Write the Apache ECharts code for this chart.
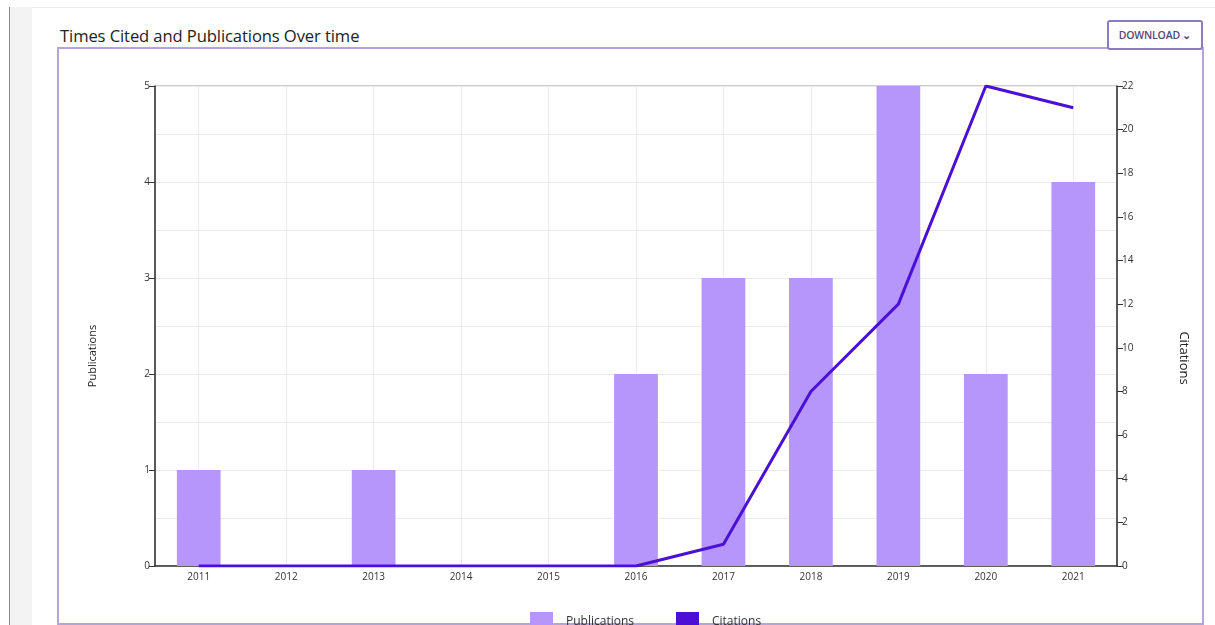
<!DOCTYPE html>
<html>
<head>
<meta charset="utf-8">
<script src="https://cdn.jsdelivr.net/npm/echarts@6/dist/echarts.min.js"></script>
<style>
  html, body { margin: 0; padding: 0; background: #fff; }
  body { width: 1215px; height: 625px; position: relative; overflow: hidden; font-family: "Open Sans", "Noto Sans", sans-serif; }
  .side { position: absolute; left: 9px; top: 7px; width: 23px; height: 618px; background: #f3f3f3; border-left: 1px solid #8a8a8a; }
  .card { position: absolute; left: 32px; top: 7px; width: 1183px; height: 618px; border-top: 1px solid #ececec; background: #fff; }
  .title { position: absolute; left: 60px; top: 24px; font-size: 16.6px; color: #222; letter-spacing: -0.1px; }
  .frame { position: absolute; left: 57px; top: 47px; width: 1143px; height: 574px; border: 2px solid #b4a5d8; }
  .btn { position: absolute; left: 1107px; top: 20px; width: 92px; height: 26px; border: 2px solid #8c7bc4; border-radius: 3px; background: #fff;
         font-size: 10.5px; font-weight: 600; color: #4e4a78; line-height: 26px; text-align: center; letter-spacing: -0.2px; }
  #chart { position: absolute; left: 0; top: 0; width: 1215px; height: 625px; }
</style>
</head>
<body>
<div class="side"></div>
<div class="card"></div>
<div class="title">Times Cited and Publications Over time</div>
<div class="frame"></div>
<div class="btn">DOWNLOAD &#8964;</div>
<div id="chart"></div>
<script>
// Yearly publication counts and citations
const years = ['2011', '2012', '2013', '2014', '2015', '2016', '2017', '2018', '2019', '2020', '2021'];
const publications = [1, 0, 1, 0, 0, 2, 3, 3, 5, 2, 4];
const citations = [0, 0, 0, 0, 0, 0, 1, 8, 12, 22, 21];

const barColor = '#b796fb';
const lineColor = '#4a10d6';
const axisColor = '#333';
const labelFont = { fontFamily: 'Open Sans', fontSize: 10, color: '#333' };

const chart = echarts.init(document.getElementById('chart'), null, { renderer: 'canvas' });
chart.setOption({
  backgroundColor: 'transparent',
  animation: false,
  grid: { left: 155, right: 98, top: 86, bottom: 59, show: true, borderColor: '#9a9a9a', borderWidth: 1, backgroundColor: 'transparent' },
  legend: {
    left: 525, top: 607, itemWidth: 23, itemHeight: 19, itemGap: 42, icon: 'rect',
    textStyle: { fontFamily: 'Open Sans', fontSize: 12, color: '#333', padding: [0, 0, 8, 8] },
    data: ['Publications', 'Citations']
  },
  xAxis: {
    type: 'category',
    data: years,
    axisLine: { lineStyle: { color: axisColor, width: 1.5 } },
    axisTick: { alignWithLabel: true, length: 5, lineStyle: { color: axisColor } },
    axisLabel: Object.assign({ margin: 6 }, labelFont),
    splitLine: { show: true, alignWithLabel: true, lineStyle: { color: '#ebebeb', width: 1 } }
  },
  yAxis: [
    {
      type: 'value', min: 0, max: 5, interval: 1, position: 'left',
      name: 'Publications', nameLocation: 'middle', nameGap: 57,
      nameTextStyle: { fontFamily: 'Open Sans', fontSize: 11, color: '#222', padding: [0, 60, 0, 0] },
      axisLine: { show: true, lineStyle: { color: axisColor, width: 1.5 } },
      axisTick: { show: true, length: 6, lineStyle: { color: axisColor } },
      axisLabel: Object.assign({ margin: 5 }, labelFont),
      splitLine: { show: true, lineStyle: { color: '#ebebeb' } },
      minorTick: { show: false, splitNumber: 2 },
      minorSplitLine: { show: true, lineStyle: { color: '#ebebeb' } }
    },
    {
      type: 'value', min: 0, max: 22, interval: 2, position: 'right',
      name: 'Citations', nameLocation: 'middle', nameGap: 60, nameRotate: -90,
      nameTextStyle: { fontFamily: 'Open Sans', fontSize: 13, color: '#222', padding: [0, 0, 0, 64] },
      axisLine: { show: true, lineStyle: { color: axisColor, width: 1.5 } },
      axisTick: { show: true, length: 6, lineStyle: { color: axisColor } },
      axisLabel: Object.assign({ margin: 5 }, labelFont),
      splitLine: { show: false }
    }
  ],
  series: [
    {
      name: 'Publications', type: 'bar', yAxisIndex: 0, data: publications,
      barWidth: '50%', itemStyle: { color: barColor }, z: 2
    },
    {
      name: 'Citations', type: 'line', yAxisIndex: 1, data: citations,
      symbol: 'none', lineStyle: { color: lineColor, width: 3 }, itemStyle: { color: lineColor }, z: 3
    }
  ]
});
</script>
</body>
</html>
